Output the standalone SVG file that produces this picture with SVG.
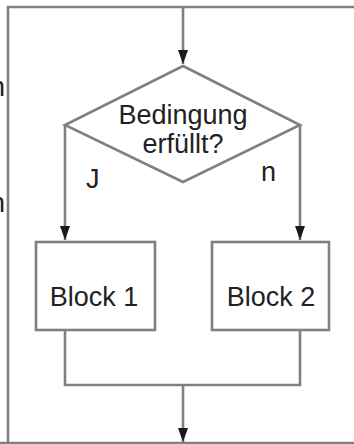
<svg xmlns="http://www.w3.org/2000/svg" width="354" height="444" viewBox="0 0 354 444">
<style>
.ln{fill:none;stroke:#808080;stroke-width:2.6}
.nd{fill:#fff;stroke:#808080;stroke-width:2.6}
.t{font-family:"Liberation Sans",Arial,sans-serif;font-size:27px;fill:#222}
.ah{fill:#1a1a1a}
</style>
<defs>
<marker id="arr" viewBox="0 0 14 10" refX="14" refY="5" markerWidth="14" markerHeight="10" markerUnits="userSpaceOnUse" orient="auto">
<path d="M0,0 L14,5 L0,10 Z" class="ah"/>
</marker>
</defs>
<g id="connectors">
<path class="ln" d="M8,444 L8,7 L354,7"/>
<path class="ln" d="M0,443 L354,443"/>
<path class="ln" d="M183,7 L183,64" marker-end="url(#arr)"/>
<path class="ln" d="M65,125 L65,240" marker-end="url(#arr)"/>
<path class="ln" d="M300,125 L300,240" marker-end="url(#arr)"/>
<path class="ln" d="M65,330 L65,385 L300,385 L300,330"/>
<path class="ln" d="M183,385 L183,442" marker-end="url(#arr)"/>
</g>
<g id="decision">
<polygon class="nd" points="183,66 300,125 183,182 65,125"/>
<text class="t" x="183" y="124" text-anchor="middle">Bedingung</text>
<text class="t" x="183" y="153" text-anchor="middle">erfüllt?</text>
</g>
<g id="block1">
<rect class="nd" x="36" y="242" width="119" height="88"/>
<text class="t" x="94" y="306" text-anchor="middle">Block 1</text>
</g>
<g id="block2">
<rect class="nd" x="212" y="242" width="117" height="88"/>
<text class="t" x="271" y="306" text-anchor="middle">Block 2</text>
</g>
<g id="labels">
<text class="t" x="86" y="188">J</text>
<text class="t" x="261" y="181">n</text>
<text class="t" x="5" y="96" text-anchor="end">n</text>
<text class="t" x="5" y="212" text-anchor="end">n</text>
</g>
</svg>
